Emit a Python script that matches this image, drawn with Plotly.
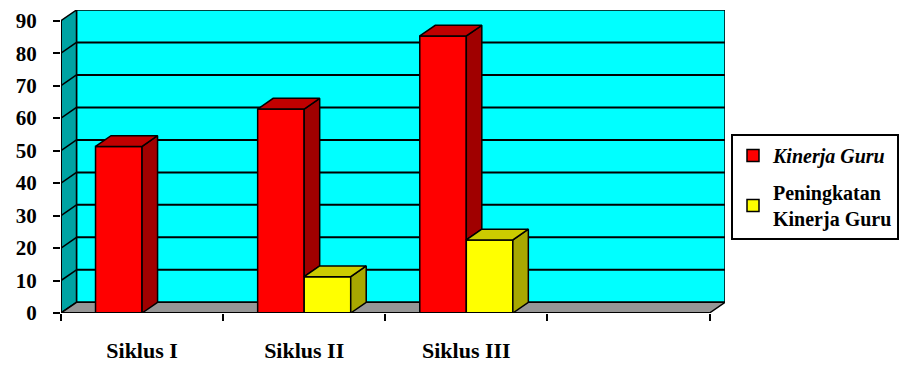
import plotly.graph_objects as go

# ---- data ----
categories = ["Siklus I", "Siklus II", "Siklus III"]
kinerja_guru = [51.3, 62.8, 85.3]
peningkatan = [None, 11.2, 22.5]
y_ticks = [0, 10, 20, 30, 40, 50, 60, 70, 80, 90]
series_names = ["<i>Kinerja Guru</i>", "Peningkatan<br>Kinerja Guru"]

# ---- style / geometry ----
N_SLOTS = 4
DX = 0.0956          # depth offset in category units
DY = 3.3             # depth offset in value units
BW = 0.287           # bar width in category units
YMAX = 90
FONT = "Liberation Serif"

RED, RED_TOP, RED_SIDE = "#FF0000", "#C00000", "#A00000"
YEL, YEL_TOP, YEL_SIDE = "#FFFF00", "#CCCC00", "#A8A800"

xs = list(range(len(categories)))
fig = go.Figure()

# front faces
fig.add_trace(go.Bar(x=xs, y=kinerja_guru, name=series_names[0], width=BW, offset=-BW,
                     marker=dict(color=RED, line=dict(color="black", width=1.5)),
                     legendgroup="a"))
fig.add_trace(go.Bar(x=xs, y=peningkatan, name=series_names[1], width=BW, offset=0,
                     marker=dict(color=YEL, line=dict(color="black", width=1.5)),
                     legendgroup="b"))


def face(xp, yp, color):
    fig.add_trace(go.Scatter(x=xp + [xp[0]], y=yp + [yp[0]], mode="lines", fill="toself",
                             fillcolor=color, line=dict(color="black", width=1.5),
                             showlegend=False, hoverinfo="skip"))


for i, x in enumerate(xs):
    v = kinerja_guru[i]
    x0, x1 = x - BW, x
    base = peningkatan[i] if peningkatan[i] is not None else 0
    # red side (part not hidden by yellow bar)
    face([x1, x1, x1 + DX, x1 + DX], [base, v, v + DY, base + DY], RED_SIDE)
    face([x0, x1, x1 + DX, x0 + DX], [v, v, v + DY, v + DY], RED_TOP)
    p = peningkatan[i]
    if p is not None:
        x0, x1 = x, x + BW
        face([x1, x1, x1 + DX, x1 + DX], [0, p, p + DY, DY], YEL_SIDE)
        face([x0, x1, x1 + DX, x0 + DX], [p, p, p + DY, p + DY], YEL_TOP)

# walls / floor / grid
L, R = -0.5, N_SLOTS - 0.5
shapes = []


def poly(pts, fill, lw=1.5):
    d = "M" + " L".join(f"{a},{b}" for a, b in pts) + " Z"
    shapes.append(dict(type="path", path=d, xref="x", yref="y", fillcolor=fill,
                       line=dict(color="black", width=lw), layer="below"))


poly([(L + DX, DY), (R + DX, DY), (R + DX, YMAX + DY), (L + DX, YMAX + DY)], "#00FFFF")
poly([(L, 0), (L + DX, DY), (L + DX, YMAX + DY), (L, YMAX)], "#00A3A3")
poly([(L, 0), (R, 0), (R + DX, DY), (L + DX, DY)], "#969696")
for t in y_ticks[1:-1]:
    shapes.append(dict(type="line", xref="x", yref="y", x0=L + DX, x1=R + DX, y0=t + DY, y1=t + DY,
                       line=dict(color="black", width=2), layer="below"))
    shapes.append(dict(type="line", xref="x", yref="y", x0=L, x1=L + DX, y0=t, y1=t + DY,
                       line=dict(color="black", width=1.5), layer="below"))
# axis lines
shapes.append(dict(type="line", xref="x", yref="y", x0=L, x1=L, y0=0, y1=YMAX,
                   line=dict(color="black", width=2), layer="above"))
shapes.append(dict(type="line", xref="x", yref="y", x0=L, x1=R, y0=0, y1=0,
                   line=dict(color="black", width=2), layer="above"))

tick_font = dict(family=FONT, size=21, color="black", weight="bold")

fig.update_layout(
    width=899, height=365,
    margin=dict(l=61, r=174, t=10, b=52, autoexpand=False),
    paper_bgcolor="white", plot_bgcolor="white",
    barmode="overlay",
    shapes=shapes,
    showlegend=True,
    legend=dict(x=731 / 899, xanchor="left", y=1 - 134 / 365, yanchor="top",
                xref="container", yref="container",
                bordercolor="black", borderwidth=2, bgcolor="white",
                font=dict(family=FONT, size=20, color="black", weight="bold"),
                tracegroupgap=8, itemwidth=30),
    xaxis=dict(range=[L, R + DX], tickvals=xs, ticktext=categories, ticks="",
               tickfont=dict(family=FONT, size=22, color="black", weight="bold"),
               ticklabelstandoff=22, showgrid=False, zeroline=False, showline=False,
               minor=dict(tickvals=[L + k for k in range(N_SLOTS + 1)], ticks="outside",
                          ticklen=7, tickwidth=2, tickcolor="black", showgrid=False),
               fixedrange=True),
    yaxis=dict(range=[0, YMAX + DY], tickvals=y_ticks, ticks="outside", ticklen=7,
               tickwidth=2, tickcolor="black", tickfont=tick_font, ticklabelstandoff=12,
               showgrid=False, zeroline=False, showline=False, fixedrange=True),
)

fig.write_html("out.html")
